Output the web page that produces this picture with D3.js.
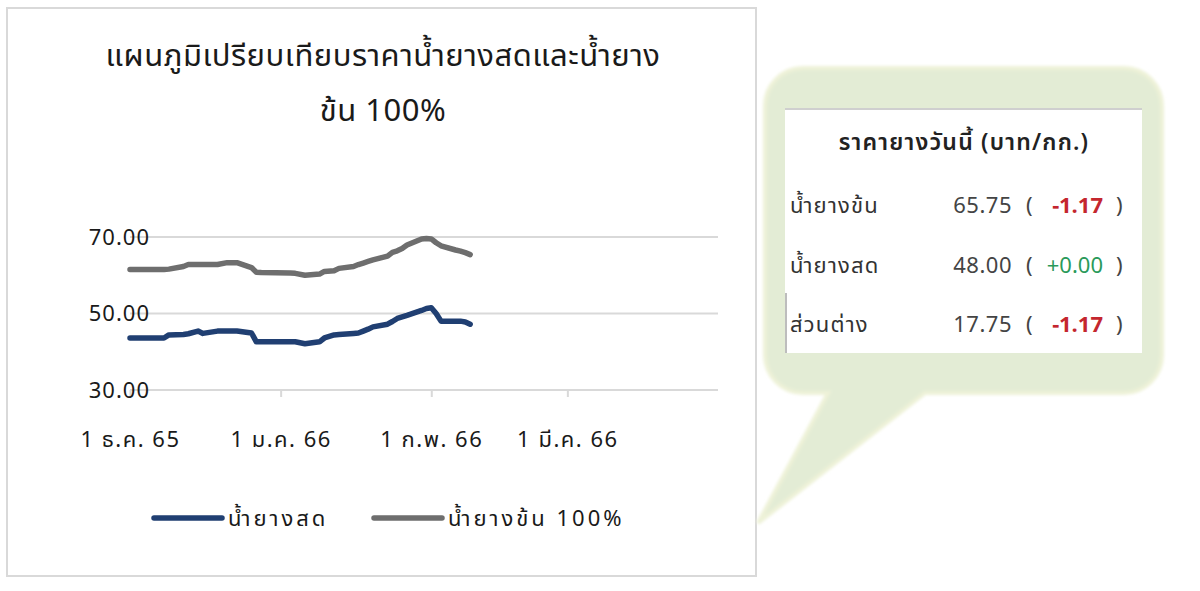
<!DOCTYPE html>
<html>
<head>
<meta charset="utf-8">
<script src="https://cdn.jsdelivr.net/npm/d3@7"></script>
<style>
  body { margin: 0; background: #fff; }
  text { font-family: Tahoma, "Noto Sans Thai", "Noto Sans", "DejaVu Sans", sans-serif; }
</style>
</head>
<body>
<div id="chart"></div>
<script>
// dates of the observations
const dates = [
  "2022-12-01", "2022-12-05", "2022-12-08", "2022-12-09", "2022-12-12", "2022-12-13",
  "2022-12-15", "2022-12-16", "2022-12-19", "2022-12-21", "2022-12-23", "2022-12-26",
  "2022-12-27", "2022-12-28", "2023-01-03", "2023-01-04", "2023-01-06", "2023-01-09",
  "2023-01-10", "2023-01-12", "2023-01-13", "2023-01-16", "2023-01-17", "2023-01-18",
  "2023-01-19", "2023-01-20", "2023-01-23", "2023-01-24", "2023-01-25", "2023-01-26",
  "2023-01-27", "2023-01-30", "2023-01-31", "2023-02-01", "2023-02-02", "2023-02-03",
  "2023-02-06", "2023-02-07", "2023-02-08", "2023-02-09"
];

// น้ำยางสด (fresh latex)
const freshLatex = [
  43.6, 43.6, 43.6, 44.4, 44.5, 44.7,
  45.4, 44.8, 45.4, 45.4, 45.4, 44.9,
  42.6, 42.6, 42.6, 42.6, 42.1, 42.6,
  43.6, 44.4, 44.5, 44.8, 44.9, 45.4,
  45.9, 46.5, 47.2, 47.9, 48.7, 49.1,
  49.5, 50.8, 51.3, 51.5, 50.0, 48.0,
  48.0, 48.0, 47.8, 47.2
];

// น้ำยางข้น 100% (concentrated latex)
const concLatex = [
  61.5, 61.5, 61.5, 61.6, 62.3, 62.8,
  62.8, 62.8, 62.8, 63.3, 63.3, 62.0,
  60.8, 60.7, 60.6, 60.5, 60.0, 60.3,
  61.0, 61.2, 61.8, 62.3, 62.8, 63.2,
  63.6, 64.0, 65.0, 66.0, 66.4, 67.0,
  67.9, 69.5, 69.6, 69.5, 68.5, 67.7,
  66.6, 66.3, 65.9, 65.4
];

const seriesNames = ["น้ำยางสด", "น้ำยางข้น 100%"];
const seriesColors = ["#203f72", "#6e6e6e"];

const yTicks = [30, 50, 70];
const xTickDates = ["2022-12-01", "2023-01-01", "2023-02-01", "2023-03-01"];
const xTickLabels = ["1 ธ.ค. 65", "1 ม.ค. 66", "1 ก.พ. 66", "1 มี.ค. 66"];

// today's price box
const tableTitle = "ราคายางวันนี้ (บาท/กก.)";
const tableLabels = ["น้ำยางข้น", "น้ำยางสด", "ส่วนต่าง"];
const tablePrices = [65.75, 48.00, 17.75];
const tableChanges = [-1.17, 0.00, -1.17];

const width = 1200;
const height = 591;
const parse = d3.timeParse("%Y-%m-%d");

const svg = d3.select("#chart").append("svg")
  .attr("width", width)
  .attr("height", height)
  .attr("viewBox", [0, 0, width, height]);

// chart frame
svg.append("rect")
  .attr("x", 7).attr("y", 8)
  .attr("width", 749).attr("height", 568)
  .attr("fill", "#fff")
  .attr("stroke", "#d9d9d9")
  .attr("stroke-width", 2);

// title
const title = svg.append("text")
  .attr("text-anchor", "middle")
  .attr("font-size", 31)
  .attr("letter-spacing", 0.5)
  .attr("fill", "#1a1a1a");
title.append("tspan").attr("x", 383).attr("y", 66).text("แผนภูมิเปรียบเทียบราคาน้ำยางสดและน้ำยาง");
title.append("tspan").attr("x", 383).attr("y", 121).text("ข้น 100%");

const x = d3.scaleTime()
  .domain([parse("2022-12-01"), parse("2023-04-01")])
  .range([130, 718]);

const y = d3.scaleLinear()
  .domain([30, 70])
  .range([390, 237]);

// gridlines
svg.append("g")
  .selectAll("line")
  .data(yTicks.slice(1))
  .join("line")
  .attr("x1", x.range()[0]).attr("x2", x.range()[1])
  .attr("y1", d => y(d)).attr("y2", d => y(d))
  .attr("stroke", "#d9d9d9")
  .attr("stroke-width", 2);

// x axis
const xAxis = svg.append("g")
  .attr("transform", `translate(0,${y(30)})`)
  .call(d3.axisBottom(x)
    .tickValues(xTickDates.map(parse))
    .tickSize(7)
    .tickFormat((d, i) => xTickLabels[i]));
xAxis.select(".domain").attr("stroke", "#d9d9d9").attr("stroke-width", 2)
  .attr("d", `M${x.range()[0]},0H${x.range()[1]}`);
xAxis.selectAll(".tick line").attr("stroke", "#d9d9d9").attr("stroke-width", 2);
xAxis.selectAll(".tick text")
  .attr("y", 57)
  .attr("dy", 0)
  .attr("font-size", 22)
  .attr("letter-spacing", 1.5)
  .attr("fill", "#1a1a1a");

// y axis labels
svg.append("g")
  .selectAll("text")
  .data(yTicks)
  .join("text")
  .attr("x", 150)
  .attr("y", d => y(d))
  .attr("dy", "0.35em")
  .attr("text-anchor", "end")
  .attr("font-size", 22)
  .attr("letter-spacing", 1)
  .attr("fill", "#1a1a1a")
  .text(d => d3.format(".2f")(d));

// lines
const rows = dates.map((d, i) => ({ date: parse(d), fresh: freshLatex[i], conc: concLatex[i] }));
const line = key => d3.line()
  .x(d => x(d.date))
  .y(d => y(d[key]))
  .curve(d3.curveLinear);

svg.append("path")
  .datum(rows)
  .attr("fill", "none")
  .attr("stroke", seriesColors[1])
  .attr("stroke-width", 5.5)
  .attr("stroke-linejoin", "round")
  .attr("stroke-linecap", "round")
  .attr("d", line("conc"));

svg.append("path")
  .datum(rows)
  .attr("fill", "none")
  .attr("stroke", seriesColors[0])
  .attr("stroke-width", 5.5)
  .attr("stroke-linejoin", "round")
  .attr("stroke-linecap", "round")
  .attr("d", line("fresh"));

// legend
const legend = svg.append("g")
  .selectAll("g")
  .data(seriesNames)
  .join("g")
  .attr("transform", (d, i) => `translate(${[154, 374][i]},518)`);
legend.append("line")
  .attr("x1", 0).attr("x2", 68)
  .attr("stroke", (d, i) => seriesColors[i])
  .attr("stroke-width", 5.5)
  .attr("stroke-linecap", "round");
legend.append("text")
  .attr("x", 74)
  .attr("dy", "0.35em")
  .attr("font-size", 22)
  .attr("letter-spacing", 3)
  .attr("fill", "#1a1a1a")
  .text(d => d);

// callout bubble
const defs = svg.append("defs");
defs.append("filter").attr("id", "soft")
  .append("feGaussianBlur").attr("stdDeviation", 1.6);

svg.append("path")
  .attr("d", "M803,68H1124A38,38 0 0 1 1162,106V355A38,38 0 0 1 1124,393H925L758,523L828,393H803A38,38 0 0 1 765,355V106A38,38 0 0 1 803,68Z")
  .attr("fill", "#e3ecd5")
  .attr("stroke", "#eef2d8")
  .attr("stroke-width", 4)
  .attr("filter", "url(#soft)");

// price table
svg.append("rect")
  .attr("x", 785).attr("y", 108)
  .attr("width", 357).attr("height", 245)
  .attr("fill", "#fff");
svg.append("line")
  .attr("x1", 785).attr("x2", 1142)
  .attr("y1", 109).attr("y2", 109)
  .attr("stroke", "#cfcfcf").attr("stroke-width", 2);
svg.append("line")
  .attr("x1", 786).attr("x2", 786)
  .attr("y1", 293).attr("y2", 353)
  .attr("stroke", "#bdbdbd").attr("stroke-width", 2);

svg.append("text")
  .attr("x", 964).attr("y", 150)
  .attr("text-anchor", "middle")
  .attr("font-size", 23)
  .attr("letter-spacing", 1.2)
  .attr("font-weight", 600)
  .attr("fill", "#222")
  .text(tableTitle);

const rowY = d3.scalePoint().domain(tableLabels).range([213, 332]);
const rowG = svg.append("g")
  .selectAll("g")
  .data(tableLabels)
  .join("g")
  .attr("transform", d => `translate(0,${rowY(d)})`);

rowG.append("text")
  .attr("x", 790)
  .attr("font-size", 22)
  .attr("letter-spacing", 1.2)
  .attr("fill", "#333")
  .text(d => d);
rowG.append("text")
  .attr("x", 1012)
  .attr("text-anchor", "end")
  .attr("font-size", 22)
  .attr("letter-spacing", 0.5)
  .attr("fill", "#444")
  .text((d, i) => d3.format(".2f")(tablePrices[i]));
rowG.append("text")
  .attr("x", 1026)
  .attr("font-size", 22)
  .attr("fill", "#444")
  .text("(");
rowG.append("text")
  .attr("x", 1103)
  .attr("text-anchor", "end")
  .attr("font-size", 22)
  .attr("font-weight", (d, i) => tableChanges[i] < 0 ? "bold" : "normal")
  .attr("fill", (d, i) => tableChanges[i] < 0 ? "#c4262e" : "#2a9a5a")
  .text((d, i) => (tableChanges[i] < 0 ? "" : "+") + d3.format(".2f")(tableChanges[i]));
rowG.append("text")
  .attr("x", 1116)
  .attr("font-size", 22)
  .attr("fill", "#444")
  .text(")");
</script>
</body>
</html>
